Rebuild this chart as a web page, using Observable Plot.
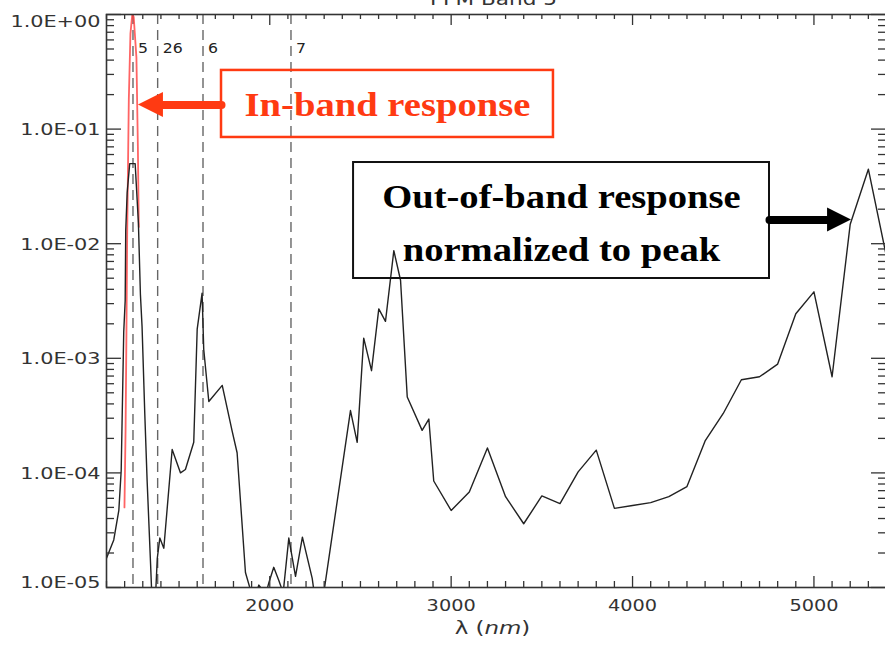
<!DOCTYPE html>
<html>
<head>
<meta charset="utf-8">
<script src="https://cdn.jsdelivr.net/npm/d3@7"></script>
<script src="https://cdn.jsdelivr.net/npm/@observablehq/plot@0.6"></script>
<style>
  html, body { margin: 0; padding: 0; background: #fff; overflow: hidden; }
  #chart svg { display: block; }
</style>
</head>
<body>
<div id="chart"></div>
<script>
// Spectral response of band 5: in-band curve and out-of-band leak, normalized to the peak
const RED = "#ff3a12";
const CURVE_RED = "#ff3030";
const INK = "#222";

const title = "PFM Band 5";
const xLabel = "λ (nm)";

// Out-of-band response (normalized to peak)
const oobWavelength = [
  1100, 1140, 1168, 1181, 1195, 1203, 1206, 1214, 1228, 1258, 1276, 1287, 1296, 1311, 1324, 1343,
  1352, 1368, 1380, 1394, 1416, 1462, 1508, 1535, 1581, 1600, 1627, 1636, 1664, 1738, 1793, 1820,
  1866, 1894, 1920, 1940, 1960, 1980, 1995, 2022, 2050, 2074, 2105, 2142, 2180, 2234, 2245, 2298,
  2445, 2482, 2518, 2561, 2601, 2638, 2684, 2721, 2758, 2840, 2877, 2904,
  3000, 3100, 3200, 3300, 3400, 3500, 3600, 3700, 3800, 3900, 4000, 4100, 4200, 4300,
  4400, 4500, 4600, 4700, 4800, 4900, 5000, 5100, 5200, 5300, 5400
];
const oobResponse = [
  1.8e-5, 2.6e-5, 4.7e-5, 1.05e-4, 1.7e-3, 3.2e-3, 1.3e-2, 2.8e-2, 5.0e-2, 5.0e-2, 1.5e-2, 3.6e-3, 1.9e-3, 3.3e-4, 8.5e-5, 1.6e-5,
  7e-6, 7e-6, 1.8e-5, 2.7e-5, 2.2e-5, 1.6e-4, 1.0e-4, 1.07e-4, 1.85e-4, 1.8e-3, 3.7e-3, 1.2e-3, 4.2e-4, 5.8e-4, 2.3e-4, 1.5e-4,
  1.35e-5, 9.5e-6, 8.5e-6, 1.05e-5, 9.5e-6, 9e-6, 1.1e-5, 1.5e-5, 1.15e-5, 9e-6, 2.7e-5, 1.25e-5, 2.75e-5, 1.2e-5, 9e-6, 9e-6,
  3.5e-4, 1.85e-4, 1.5e-3, 7.8e-4, 2.7e-3, 2.1e-3, 8.7e-3, 4.8e-3, 4.6e-4, 2.35e-4, 2.95e-4, 8.5e-5,
  4.7e-5, 6.8e-5, 1.65e-4, 6.2e-5, 3.6e-5, 6.3e-5, 5.4e-5, 1.02e-4, 1.58e-4, 4.9e-5, 5.2e-5, 5.5e-5, 6.2e-5, 7.6e-5,
  1.9e-4, 3.3e-4, 6.5e-4, 6.9e-4, 8.9e-4, 2.45e-3, 3.8e-3, 6.9e-4, 1.48e-2, 4.47e-2, 7.7e-3
];

// In-band response
const inbandWavelength = [1199, 1205, 1210, 1214, 1223, 1232, 1242, 1250, 1265, 1273, 1278];
const inbandResponse = [5e-5, 2.3e-4, 1.7e-3, 1.2e-2, 0.18, 0.68, 1.0, 0.95, 0.42, 0.07, 0.014];

// Neighbouring band centres, marked with dashed lines
const bandNames = ["5", "26", "6", "7"];
const bandWavelength = [1246, 1382, 1632, 2117];

// Axis ticks
const xTickValues = [2000, 3000, 4000, 5000];
const yTickValues = [1, 1e-1, 1e-2, 1e-3, 1e-4, 1e-5];
const yTickLabels = ["1.0E+00", "1.0E-01", "1.0E-02", "1.0E-03", "1.0E-04", "1.0E-05"];

// Callouts, placed in data units (wavelength, response)
const inbandNote = {text: "In-band response", x1: 1734, x2: 3564, y1: 0.0845, y2: 0.325, tx: 2649, ty: 0.162};
const inbandArrow = {from: 1734, neck: 1414, tip: 1276, y: 0.1623, spread: 1.285};
const oobNoteLines = ["Out-of-band response", "normalized to peak"];
const oobNote = {x1: 2462, x2: 4755, y1: 0.00497, y2: 0.0511, tx: 3608, ty: [0.02555, 0.00872]};
const oobArrow = {from: 4755, neck: 5075, tip: 5207, y: 0.0161, spread: 1.273};

const oob = oobWavelength.map((w, i) => ({w, r: oobResponse[i]}));
const inband = inbandWavelength.map((w, i) => ({w, r: inbandResponse[i]}));

const W = 887, H = 645, mL = 106, mR = 1, mT = 14, mB = 58;
const innerW = W - mL - mR, innerH = H - mT - mB;

const xMinorTicks = d3.range(1100, 5401, 100).filter(v => !xTickValues.includes(v));
const yMinorTicks = yTickValues.slice(1).flatMap(p => d3.range(2, 10).map(k => p * k));

function arrowHead(a) {
  return [{x: a.neck, lo: a.y / a.spread, hi: a.y * a.spread}, {x: a.tip, lo: a.y, hi: a.y}];
}
function arrowShaft(a) {
  return [{x: a.from, y: a.y}, {x: a.neck, y: a.y}];
}

const tickStyle = {stroke: "#333", strokeWidth: 1.3};
const calloutFont = {fontFamily: "Liberation Serif", fontWeight: "bold", fontSize: 33};

const chart = Plot.plot({
  width: W, height: H,
  marginLeft: mL, marginRight: mR, marginTop: mT, marginBottom: mB,
  x: {type: "linear", domain: [1100, 5400], axis: null},
  y: {type: "log", domain: [1e-5, 1], axis: null},
  style: {maxWidth: "none", background: "#fff", fontFamily: "DejaVu Sans", color: INK},
  marks: [
    // band centres
    Plot.ruleX(bandWavelength, {x: d => d, stroke: "#666", strokeWidth: 1.4, strokeDasharray: "10,6"}),
    Plot.text(bandWavelength, {x: d => d, text: (d, i) => bandNames[i], frameAnchor: "top", dy: 29, dx: 5,
      textAnchor: "start", fontSize: 14, fill: INK, ariaDescription: "band label"}),

    // responses
    Plot.line(inband, {x: "w", y: "r", stroke: CURVE_RED, strokeWidth: 1.8, strokeOpacity: 0.75, clip: true}),
    Plot.line(oob, {x: "w", y: "r", stroke: INK, strokeWidth: 1.4, clip: true}),

    // inward ticks on all four sides
    Plot.tickX(xMinorTicks, {x: d => d, insetTop: innerH - 6, ...tickStyle}),
    Plot.tickX(xTickValues, {x: d => d, insetTop: innerH - 11, ...tickStyle}),
    Plot.tickX(xMinorTicks, {x: d => d, insetBottom: innerH - 5, ...tickStyle}),
    Plot.tickX(xTickValues, {x: d => d, insetBottom: innerH - 11, ...tickStyle}),
    Plot.tickY(yMinorTicks, {y: d => d, insetRight: innerW - 8, ...tickStyle}),
    Plot.tickY(yTickValues, {y: d => d, insetRight: innerW - 15, ...tickStyle}),
    Plot.tickY(yMinorTicks, {y: d => d, insetLeft: innerW - 8, ...tickStyle}),
    Plot.tickY(yTickValues, {y: d => d, insetLeft: innerW - 15, ...tickStyle}),
    Plot.frame({stroke: "#333", strokeWidth: 1.6}),

    // tick labels
    Plot.text(yTickValues.slice(0, 1), {y: d => d, text: (d, i) => yTickLabels[i], frameAnchor: "left",
      textAnchor: "end", dx: -6, dy: 7, fontSize: 16, fill: "#333", ariaDescription: "y tick label"}),
    Plot.text(yTickValues.slice(1, 5), {y: d => d, text: (d, i) => yTickLabels[i + 1], frameAnchor: "left",
      textAnchor: "end", dx: -6, dy: 1, fontSize: 16, fill: "#333", ariaDescription: "y tick label"}),
    Plot.text(yTickValues.slice(5), {y: d => d, text: (d, i) => yTickLabels[i + 5], frameAnchor: "left",
      textAnchor: "end", dx: -6, dy: -5, fontSize: 16, fill: "#333", ariaDescription: "y tick label"}),
    Plot.text(xTickValues, {x: d => d, text: d => String(d), frameAnchor: "bottom", dy: 23,
      fontSize: 16.5, fill: "#333", ariaDescription: "x tick label"}),
    Plot.text([xLabel], {frameAnchor: "bottom", dy: 46, dx: -4, fontSize: 17, fill: "#333", ariaDescription: "x label"}),
    Plot.text([title], {frameAnchor: "top", dy: -22, dx: -3, fontSize: 18, fill: "#333", ariaDescription: "title"}),

    // in-band callout
    Plot.rect([inbandNote], {x1: "x1", x2: "x2", y1: "y1", y2: "y2", fill: "none", stroke: RED, strokeWidth: 2.5}),
    Plot.text([inbandNote], {x: "tx", y: "ty", text: "text", fill: RED, ...calloutFont, ariaDescription: "callout"}),
    Plot.line(arrowShaft(inbandArrow), {x: "x", y: "y", stroke: RED, strokeWidth: 8}),
    Plot.areaY(arrowHead(inbandArrow), {x: "x", y1: "lo", y2: "hi", fill: RED}),

    // out-of-band callout
    Plot.rect([oobNote], {x1: "x1", x2: "x2", y1: "y1", y2: "y2", fill: "none", stroke: "#111", strokeWidth: 2}),
    Plot.text(oobNoteLines, {x: () => oobNote.tx, y: (d, i) => oobNote.ty[i], text: d => d, fill: "#000",
      ...calloutFont, ariaDescription: "callout"}),
    Plot.line(arrowShaft(oobArrow), {x: "x", y: "y", stroke: "#000", strokeWidth: 8}),
    Plot.areaY(arrowHead(oobArrow), {x: "x", y1: "lo", y2: "hi", fill: "#000"})
  ]
});

document.getElementById("chart").append(chart);

// the wavelength unit is set in italics
chart.querySelectorAll('g[aria-description="x label"] text').forEach(t => {
  t.textContent = "";
  t.append(document.createTextNode("λ ("));
  const unit = document.createElementNS("http://www.w3.org/2000/svg", "tspan");
  unit.setAttribute("font-style", "italic");
  unit.textContent = "nm";
  t.append(unit);
  t.append(document.createTextNode(")"));
});

// wide lettering: stretch each label horizontally
const stretch = {"y tick label": 1.3, "x tick label": 1.17, "band label": 1.12, "callout": 1.17, "title": 1.2, "x label": 1.35};
for (const [label, s] of Object.entries(stretch)) {
  chart.querySelectorAll(`g[aria-description="${label}"] text`).forEach(t => {
    const w = t.getComputedTextLength();
    t.setAttribute("textLength", (w * s).toFixed(1));
    t.setAttribute("lengthAdjust", "spacingAndGlyphs");
  });
}
</script>
</body>
</html>
